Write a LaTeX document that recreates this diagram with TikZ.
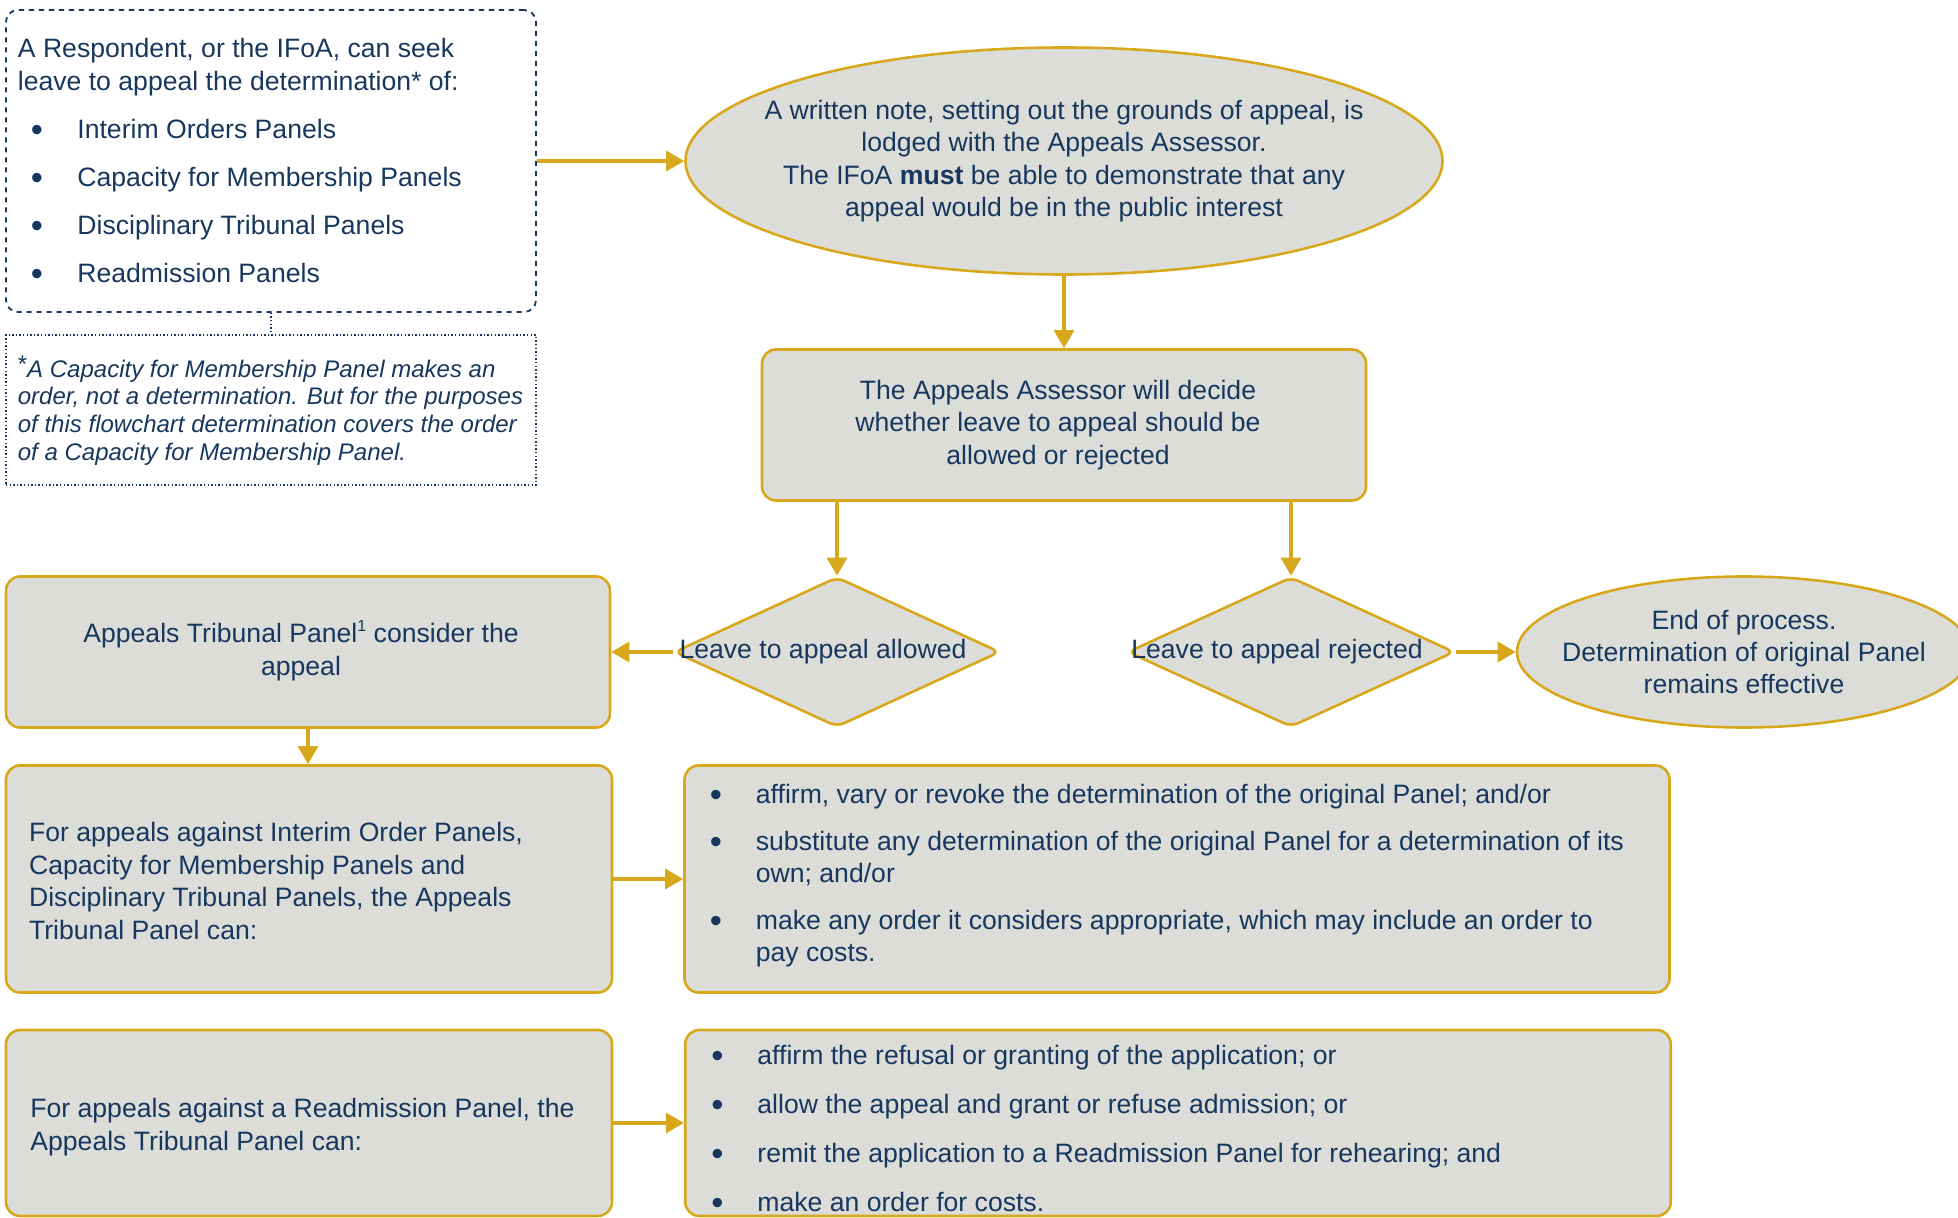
\documentclass[tikz,border=0pt]{standalone}
\usepackage{fontspec}
\setmainfont{Liberation Sans}
\usetikzlibrary{shapes.geometric,arrows.meta}
\definecolor{navy}{HTML}{17375E}
\definecolor{gold}{HTML}{D8A81C}
\definecolor{boxfill}{HTML}{DCDDD8}
\newcommand{\mainsz}{\fontsize{13.3pt}{16.2pt}\selectfont}
\newcommand{\footsz}{\fontsize{12pt}{13.8pt}\selectfont}
\newcommand{\bigbul}{\raisebox{-1.5pt}{\scalebox{1.3}{\textbullet}}}
\newcommand{\bul}{\makebox[23pt][l]{\bigbul}}
\newcommand{\topbul}{\hspace*{6.5pt}\makebox[23.25pt][l]{\bigbul}}
\newcommand{\supone}{\raisebox{5.5pt}{\fontsize{8pt}{8pt}\selectfont 1}}
\begin{document}
\begin{tikzpicture}[x=0.5pt,y=-0.5pt,
  shapebox/.style={draw=gold, fill=boxfill, line width=1.3pt, inner sep=0pt},
  roundbox/.style={shapebox, rectangle, rounded corners=7pt},
  ovalbox/.style={shapebox, ellipse},
  decbox/.style={shapebox, diamond, rounded corners=4pt},
  dashbox/.style={draw=navy, rectangle, line width=0.9pt, dash pattern=on 2.6pt off 2.4pt, rounded corners=6pt, inner sep=0pt},
  dotbox/.style={draw=navy, rectangle, line width=0.7pt, dash pattern=on 0.7pt off 1.1pt, inner sep=0pt},
  txt/.style={text=navy, font=\mainsz, inner sep=0pt},
  flow/.style={draw=gold, line width=1.6pt, -{Triangle[length=9pt,width=10pt]}},
  dotlink/.style={draw=navy, line width=0.7pt, dash pattern=on 0.7pt off 1.1pt}]
\useasboundingbox (0,0) rectangle (1958,1218);
\clip (0,0) rectangle (1958,1218);

% shapes
\node[dashbox, minimum width=265pt, minimum height=151pt] (resp) at (271,161) {};
\node[dotbox, minimum width=265pt, minimum height=75pt] (foot) at (271,410) {};
\node[ovalbox, minimum width=378.5pt, minimum height=113.5pt] (note) at (1064,161) {};
\node[roundbox, minimum width=302pt, minimum height=75.5pt] (decide) at (1064,425) {};
\node[decbox, minimum width=163pt, minimum height=75pt] (allowed) at (837,652) {};
\node[decbox, minimum width=163.5pt, minimum height=75pt] (rejected) at (1291,652) {};
\node[roundbox, minimum width=302pt, minimum height=75.5pt] (atp) at (308,652) {};
\node[ovalbox, minimum width=227pt, minimum height=75.5pt] (endp) at (1744,652) {};
\node[roundbox, minimum width=303pt, minimum height=113.5pt] (powers1) at (309,879) {};
\node[roundbox, minimum width=492.5pt, minimum height=113.5pt] (list1) at (1177,879) {};
\node[roundbox, minimum width=303pt, minimum height=93pt] (powers2) at (309,1123) {};
\node[roundbox, minimum width=492.75pt, minimum height=93pt] (list2) at (1178,1123) {};

% texts
\node[txt, anchor=north west, align=left] (resptxt) at (17.5,38)
  {A Respondent, or the IFoA, can seek\\leave to appeal the determination* of:\\[7.8pt]
   \topbul Interim Orders Panels\\[7.8pt]
   \topbul Capacity for Membership Panels\\[7.8pt]
   \topbul Disciplinary Tribunal Panels\\[7.8pt]
   \topbul Readmission Panels};
\node[txt, font=\footsz\itshape, anchor=north west, align=left] (foottxt) at (17.5,359.5)
  {\smash{\raisebox{2.5pt}{\upshape *}}A Capacity for Membership Panel makes an\\order, not a determination. But for the purposes\\of this flowchart determination covers the order\\of a Capacity for Membership Panel.};
\node[txt, align=center] (notetxt) at (note.center)
  {A written note, setting out the grounds of appeal, is\\lodged with the Appeals Assessor.\\The IFoA \textbf{must} be able to demonstrate that any\\appeal would be in the public interest};
\node[txt, align=center, xshift=-3pt] (decidetxt) at (decide.center)
  {The Appeals Assessor will decide\\whether leave to appeal should be\\allowed or rejected};
\node[txt] (allowedtxt) at (823,652) {Leave to appeal allowed};
\node[txt] (rejectedtxt) at (1277,652) {Leave to appeal rejected};
\node[txt, align=center] (atptxt) at (301,652)
  {Appeals Tribunal Panel\smash{\supone} consider the\\appeal};
\node[txt, align=center] (endtxt) at (endp.center)
  {End of process.\\Determination of original Panel\\remains effective};
\node[txt, anchor=west, align=left] (p1txt) at (28.7,881)
  {For appeals against Interim Order Panels,\\Capacity for Membership Panels and\\Disciplinary Tribunal Panels, the Appeals\\Tribunal Panel can:};
\node[txt, anchor=north west, align=left] (l1txt) at (709.5,783.4)
  {\bul affirm, vary or revoke the determination of the original Panel; and/or\\[7.3pt]
   \bul substitute any determination of the original Panel for a determination of its\\\hspace*{23pt}own; and/or\\[7.3pt]
   \bul make any order it considers appropriate, which may include an order to\\\hspace*{23pt}pay costs.};
\node[txt, anchor=west, align=left] (p2txt) at (30,1127)
  {For appeals against a Readmission Panel, the\\Appeals Tribunal Panel can:};
\node[txt, anchor=north west, align=left] (l2txt) at (711,1045)
  {\bul affirm the refusal or granting of the application; or\\[8.2pt]
   \bul allow the appeal and grant or refuse admission; or\\[8.2pt]
   \bul remit the application to a Readmission Panel for rehearing; and\\[8.2pt]
   \bul make an order for costs.};

% connectors
\draw[dotlink] (resp.south) -- (foot.north);
\draw[flow] (resp.east) -- (note.west);
\draw[flow] (note.south) -- (decide.north);
\draw[flow] (decide.south -| allowed.north) -- (allowed.north);
\draw[flow] (decide.south -| rejected.north) -- (rejected.north);
\draw[flow] (allowed.west) -- (atp.east);
\draw[flow] (rejected.east) -- (endp.west);
\draw[flow] (atp.south) -- (atp.south |- powers1.north);
\draw[flow] (powers1.east) -- (list1.west);
\draw[flow] (powers2.east) -- (list2.west);
\end{tikzpicture}
\end{document}
